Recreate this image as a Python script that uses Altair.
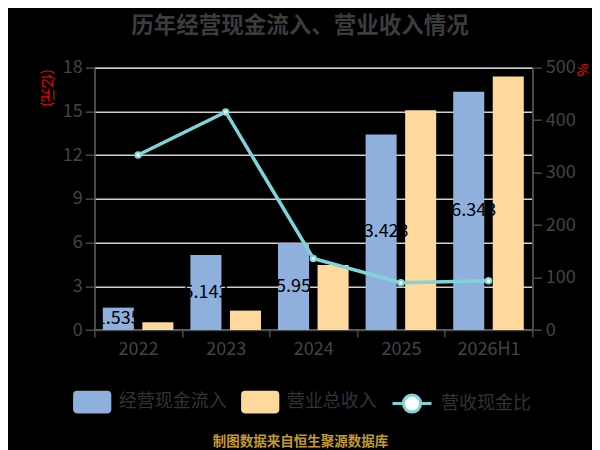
import altair as alt
import pandas as pd

# ---- data ----
years = ["2022", "2023", "2024", "2025", "2026H1"]
cash_inflow = [1.535, 5.143, 5.95, 13.423, 16.343]      # 经营现金流入 (亿元)
revenue = [0.53, 1.33, 4.46, 15.08, 17.40]              # 营业总收入 (亿元)
ratio = [333.6, 415.6, 136.5, 90.2, 94.0]               # 营收现金比 (%)
cash_labels = ["1.535", "5.143", "5.95", "13.423", "16.343"]
series_names = ["经营现金流入", "营业总收入"]
line_name = "营收现金比"
left_ticks = [0, 3, 6, 9, 12, 15, 18]
right_ticks = [0, 100, 200, 300, 400, 500]

FONT = "Noto Sans CJK SC"
BLUE = "#8FB0DC"
ORANGE = "#FFD89B"
TEAL = "#7FD4D8"
AXIS_GRAY = "#4A4A4A"
TEXT_GRAY = "#444444"

bars_df = pd.DataFrame({
    "year": years * 2,
    "series": [series_names[0]] * len(years) + [series_names[1]] * len(years),
    "value": cash_inflow + revenue,
})
label_df = pd.DataFrame({
    "year": years,
    "series": [series_names[0]] * len(years),
    "value": cash_inflow,
    "label": cash_labels,
})
line_df = pd.DataFrame({"year": years, "ratio": ratio, "name": [line_name] * len(years)})

RECT_PATH = ("M-0.79,-0.59 L0.79,-0.59 Q1,-0.59 1,-0.38 L1,0.38 Q1,0.59 0.79,0.59 "
             "L-0.79,0.59 Q-1,0.59 -1,0.38 L-1,-0.38 Q-1,-0.59 -0.79,-0.59 Z")
r = 0.44
k = 0.243
LINE_PATH = (f"M-1,0 L-{r},0 M{r},0 L1,0 "
             f"M{r},0 C{r},{k} {k},{r} 0,{r} C-{k},{r} -{r},{k} -{r},0 "
             f"C-{r},-{k} -{k},-{r} 0,-{r} C{k},-{r} {r},-{k} {r},0 Z")

x_enc = alt.X(
    "year:N", sort=years,
    scale=alt.Scale(domain=years, paddingInner=0, paddingOuter=0),
    axis=alt.Axis(
        labelAngle=0, tickBand="extent", grid=False,
        labelFontSize=18, labelColor=TEXT_GRAY, labelFont=FONT, labelPadding=3,
        domainColor=AXIS_GRAY, domainWidth=1.5, tickColor=AXIS_GRAY, tickWidth=1.5, tickSize=7,
        title="制图数据来自恒生聚源数据库", titleColor="#C49A2C", titleFontSize=13.5,
        titleFontWeight="bold", titleFont=FONT, titleX=205.7, titleY=111.7,
        titleAlign="center", titleBaseline="middle", titleAnchor="start",
    ),
)
xoff_enc = alt.XOffset(
    "series:N", sort=series_names,
    scale=alt.Scale(domain=series_names, paddingInner=0.215, paddingOuter=0.215),
)

left_axis = alt.Axis(
    values=left_ticks, grid=True, gridColor="#D0D0D0", gridWidth=1.5,
    labels=True, ticks=True, domain=True,
    labelFontSize=18, labelColor=TEXT_GRAY, labelFont=FONT, labelPadding=3,
    domainColor=AXIS_GRAY, domainWidth=1.5, tickColor=AXIS_GRAY, tickWidth=1.5, tickSize=9,
    title="(亿元)", titleColor="#FF0000", titleFontSize=14, titleFontWeight="normal",
    titleFont=FONT, titleAngle=90, titleX=-47.6, titleY=1,
    titleAlign="left", titleBaseline="middle",
)
right_axis = alt.Axis(
    orient="right", values=right_ticks, grid=False,
    labels=True, ticks=True, domain=True,
    labelFontSize=18, labelColor=TEXT_GRAY, labelFont=FONT, labelPadding=4,
    domainColor=AXIS_GRAY, domainWidth=1.5, tickColor=AXIS_GRAY, tickWidth=1.5, tickSize=9,
    title="%", titleColor="#FF0000", titleFontSize=14, titleFontWeight="normal",
    titleFont=FONT, titleAngle=90, titleX=48, titleY=-4.7,
    titleAlign="left", titleBaseline="middle",
)

bars = alt.Chart(bars_df).mark_bar().encode(
    x=x_enc,
    xOffset=xoff_enc,
    y=alt.Y("value:Q", scale=alt.Scale(domain=[0, 18], nice=False), axis=left_axis),
    color=alt.Color(
        "series:N",
        scale=alt.Scale(domain=series_names, range=[BLUE, ORANGE]),
        legend=alt.Legend(
            title=None, orient="none", legendX=-21.6, legendY=314.8, direction="horizontal",
            symbolType=RECT_PATH, symbolSize=1460, symbolStrokeWidth=0,
            labelFontSize=18, labelColor="#333333", labelFont=FONT, labelOffset=7,
            columnPadding=14, padding=0, labelLimit=0,
        ),
    ),
)

labels = alt.Chart(label_df).transform_calculate(
    mid="datum.value / 2"
).mark_text(color="black", fontSize=18, font=FONT, baseline="middle", align="center").encode(
    x=x_enc,
    xOffset=xoff_enc,
    y=alt.Y("mid:Q", scale=alt.Scale(domain=[0, 18], nice=False), axis=None),
    text="label:N",
)

line = alt.Chart(line_df).mark_line(strokeWidth=3.5).encode(
    x=x_enc,
    y=alt.Y("ratio:Q", scale=alt.Scale(domain=[0, 500], nice=False), axis=right_axis),
    stroke=alt.Stroke(
        "name:N",
        scale=alt.Scale(domain=[line_name], range=[TEAL]),
        legend=alt.Legend(
            title=None, orient="none", legendX=296.7, legendY=314.8, direction="horizontal",
            symbolType=LINE_PATH, symbolSize=1521, symbolStrokeWidth=3,
            symbolFillColor="white", symbolStrokeColor=TEAL,
            labelFontSize=18, labelColor="#333333", labelFont=FONT, labelOffset=8,
            padding=0, labelLimit=0,
        ),
    ),
)

points = alt.Chart(line_df).mark_circle(
    color="white", stroke=TEAL, strokeWidth=2, size=30, opacity=1
).encode(
    x=x_enc,
    y=alt.Y("ratio:Q", scale=alt.Scale(domain=[0, 500], nice=False), axis=None),
)

chart = alt.layer(bars, labels, line, points).resolve_scale(
    y="independent"
).properties(
    width=438,
    height=262.3,
    padding={"left": 86.3, "top": 59.7, "right": 59.7, "bottom": 124},
    autosize=alt.AutoSizeParams(type="none"),
    background="black",
    title=alt.TitleParams(
        text="历年经营现金流入、营业收入情况", fontSize=22.5, fontWeight="bold",
        color="#3C3C3C", font=FONT, anchor="middle", dx=-13.3, dy=-6, offset=15,
    ),
).configure_view(stroke=None, strokeWidth=0).configure(font=FONT)

chart.save("out.html", embed_options={"renderer": "svg", "actions": False})
